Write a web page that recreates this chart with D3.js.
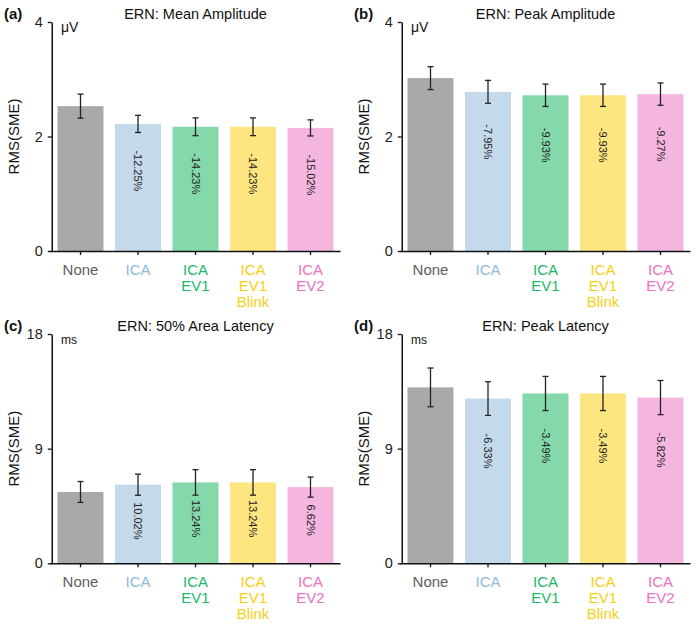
<!DOCTYPE html>
<html>
<head>
<meta charset="utf-8">
<script src="https://cdn.jsdelivr.net/npm/d3@7"></script>
<style>
  body { margin: 0; background: #fff; }
  svg { display: block; font-family: "Liberation Sans", Arial, Helvetica, sans-serif; }
</style>
</head>
<body>
<svg id="chart" width="700" height="629"></svg>
<script>
// ---- Data ----
const categories = ["None", "ICA", "ICA EV1", "ICA EV1 Blink", "ICA EV2"];
const categoryLines = [["None"], ["ICA"], ["ICA", "EV1"], ["ICA", "EV1", "Blink"], ["ICA", "EV2"]];

const meanAmplitude = [2.53, 2.22, 2.17, 2.17, 2.15];
const meanAmplitudeErr = [0.21, 0.15, 0.155, 0.155, 0.14];
const meanAmplitudePct = ["", "-12.25%", "-14.23%", "-14.23%", "-15.02%"];

const peakAmplitude = [3.02, 2.78, 2.72, 2.72, 2.74];
const peakAmplitudeErr = [0.2, 0.2, 0.195, 0.195, 0.195];
const peakAmplitudePct = ["", "-7.95%", "-9.93%", "-9.93%", "-9.27%"];

const areaLatency = [5.6, 6.17, 6.35, 6.35, 5.98];
const areaLatencyErr = [0.82, 0.83, 1.0, 1.0, 0.79];
const areaLatencyPct = ["", "10.02%", "13.24%", "13.24%", "6.62%"];

const peakLatency = [13.81, 12.93, 13.33, 13.33, 13.01];
const peakLatencyErr = [1.52, 1.32, 1.34, 1.34, 1.34];
const peakLatencyPct = ["", "-6.33%", "-3.49%", "-3.49%", "-5.82%"];

const ampTicks = [0, 2, 4];
const latTicks = [0, 9, 18];

// ---- Styles ----
const barColors = ["#a9a9a9", "#c4d9ea", "#84d8a9", "#fde680", "#f4b5df"];
const textColors = ["#5e5e5e", "#8db9dd", "#1db866", "#f5cf14", "#ec6fc4"];

const panels = [
  { tag: "(a)", title: "ERN: Mean Amplitude", unit: "\u03bcV", unitSize: 14, vals: meanAmplitude, errs: meanAmplitudeErr, pct: meanAmplitudePct, ticks: ampTicks, max: 4, ox: 0, top: 22, bottom: 251, pctOff: 26.5 },
  { tag: "(b)", title: "ERN: Peak Amplitude", unit: "\u03bcV", unitSize: 14, vals: peakAmplitude, errs: peakAmplitudeErr, pct: peakAmplitudePct, ticks: ampTicks, max: 4, ox: 350, top: 22, bottom: 251, pctOff: 32.5 },
  { tag: "(c)", title: "ERN: 50% Area Latency", unit: "ms", unitSize: 12, vals: areaLatency, errs: areaLatencyErr, pct: areaLatencyPct, ticks: latTicks, max: 18, ox: 0, top: 334, bottom: 563.3, pctOff: 17.5 },
  { tag: "(d)", title: "ERN: Peak Latency", unit: "ms", unitSize: 12, vals: peakLatency, errs: peakLatencyErr, pct: peakLatencyPct, ticks: latTicks, max: 18, ox: 350, top: 334, bottom: 563.3, pctOff: 35 }
];

const svg = d3.select("#chart");

panels.forEach(p => {
  const g = svg.append("g").attr("transform", `translate(${p.ox},0)`);
  const x = d3.scaleBand().domain(categories).range([51.75, 339.25]).paddingInner(0.2).paddingOuter(0.1);
  const y = d3.scaleLinear().domain([0, p.max]).range([p.bottom, p.top]);
  const data = categories.map((c, i) => ({ c, i, v: p.vals[i], e: p.errs[i], pct: p.pct[i] }));

  // bars
  g.selectAll("rect.bar").data(data).enter().append("rect")
    .attr("class", "bar")
    .attr("x", d => x(d.c))
    .attr("width", x.bandwidth())
    .attr("y", d => y(d.v))
    .attr("height", d => y(0) - y(d.v))
    .attr("fill", d => barColors[d.i]);

  // percent labels
  g.selectAll("text.pct").data(data.filter(d => d.pct)).enter().append("text")
    .attr("class", "pct")
    .attr("transform", d => `translate(${x(d.c) + x.bandwidth() / 2},${y(d.v) + p.pctOff}) rotate(90)`)
    .attr("dy", "0.35em")
    .attr("text-anchor", "start")
    .attr("font-size", 11)
    .attr("fill", "#222")
    .text(d => d.pct);

  // error bars
  const eb = g.selectAll("g.err").data(data).enter().append("g").attr("class", "err")
    .attr("stroke", "#222").attr("stroke-width", 1.3);
  eb.append("line")
    .attr("x1", d => x(d.c) + x.bandwidth() / 2).attr("x2", d => x(d.c) + x.bandwidth() / 2)
    .attr("y1", d => y(d.v - d.e)).attr("y2", d => y(d.v + d.e));
  eb.append("line")
    .attr("x1", d => x(d.c) + x.bandwidth() / 2 - 3).attr("x2", d => x(d.c) + x.bandwidth() / 2 + 3)
    .attr("y1", d => y(d.v + d.e)).attr("y2", d => y(d.v + d.e));
  eb.append("line")
    .attr("x1", d => x(d.c) + x.bandwidth() / 2 - 3).attr("x2", d => x(d.c) + x.bandwidth() / 2 + 3)
    .attr("y1", d => y(d.v - d.e)).attr("y2", d => y(d.v - d.e));

  // y axis
  const ya = g.append("g").attr("transform", `translate(51.75,0)`)
    .call(d3.axisLeft(y).tickValues(p.ticks).tickFormat(d3.format("d")).tickSize(4).tickSizeOuter(0).tickPadding(5));
  ya.select(".domain").attr("stroke", "#111").attr("stroke-width", 1.5);
  ya.selectAll(".tick line").attr("stroke", "#111").attr("stroke-width", 1.3);
  ya.selectAll(".tick text").attr("font-size", 14.5).attr("fill", "#222").attr("font-family", "Liberation Sans, Arial, sans-serif");

  // x axis
  const xa = g.append("g").attr("transform", `translate(0,${p.bottom})`)
    .call(d3.axisBottom(x).tickSize(4).tickSizeOuter(0).tickFormat(""));
  xa.select(".domain").attr("stroke", "#111").attr("stroke-width", 1.5)
    .attr("d", `M50.5,0.5H340.5`);
  xa.selectAll(".tick line").attr("stroke", "#111").attr("stroke-width", 1.3);

  // category labels (multi-line, coloured)
  const cl = g.selectAll("text.cat").data(data).enter().append("text")
    .attr("class", "cat")
    .attr("text-anchor", "middle")
    .attr("font-size", 15)
    .attr("fill", d => textColors[d.i])
    .attr("x", d => x(d.c) + x.bandwidth() / 2)
    .attr("y", p.bottom + 24);
  cl.each(function(d) {
    const t = d3.select(this);
    categoryLines[d.i].forEach((line, k) => {
      t.append("tspan").attr("x", x(d.c) + x.bandwidth() / 2).attr("y", p.bottom + 24 + k * 16).text(line);
    });
  });

  // y-axis title
  g.append("text")
    .attr("transform", `translate(19,${(p.top + p.bottom) / 2}) rotate(-90)`)
    .attr("text-anchor", "middle")
    .attr("font-size", 15)
    .attr("fill", "#111")
    .text("RMS(SME)");

  // unit label
  g.append("text")
    .attr("x", 61).attr("y", p.top + 10)
    .attr("font-size", p.unitSize)
    .attr("fill", "#111")
    .text(p.unit);

  // title
  g.append("text")
    .attr("x", 195.5).attr("y", p.top - 3.5)
    .attr("text-anchor", "middle")
    .attr("font-size", 14.5)
    .attr("fill", "#111")
    .text(p.title);

  // panel tag
  g.append("text")
    .attr("x", 4).attr("y", p.top - 3)
    .attr("font-size", 15)
    .attr("font-weight", "bold")
    .attr("fill", "#111")
    .text(p.tag);
});
</script>
</body>
</html>
